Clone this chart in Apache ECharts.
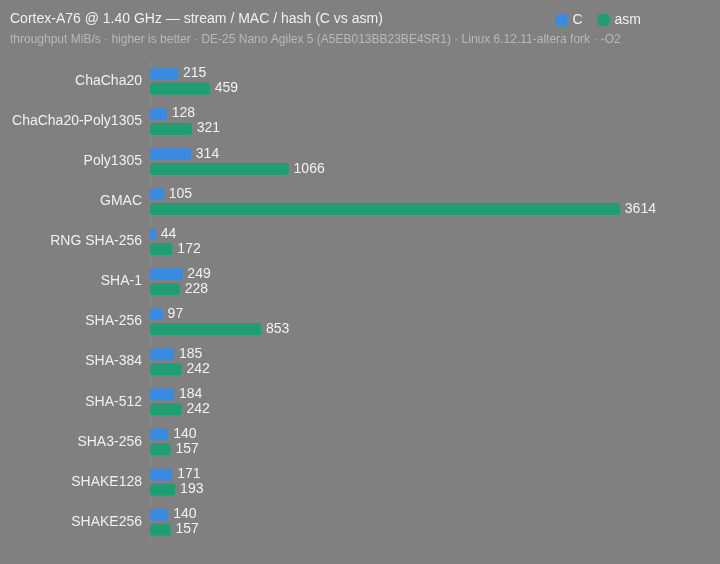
<!DOCTYPE html>
<html>
<head>
<meta charset="utf-8">
<script src="https://cdn.jsdelivr.net/npm/echarts@6/dist/echarts.min.js"></script>
<style>
  html, body { margin: 0; padding: 0; background: #808080; }
  #chart { width: 720px; height: 564px; }
</style>
</head>
<body>
<div id="chart"></div>
<script>
// data
const categories = ['ChaCha20', 'ChaCha20-Poly1305', 'Poly1305', 'GMAC', 'RNG SHA-256', 'SHA-1',
  'SHA-256', 'SHA-384', 'SHA-512', 'SHA3-256', 'SHAKE128', 'SHAKE256'];
const cValues = [215, 128, 314, 105, 44, 249, 97, 185, 184, 140, 171, 140];
const asmValues = [459, 321, 1066, 3614, 172, 228, 853, 242, 242, 157, 193, 157];

const chart = echarts.init(document.getElementById('chart'));

const font = 'Liberation Sans, Arial, sans-serif';
const labelStyle = {
  show: true,
  position: 'right',
  distance: 5,
  color: '#f2f2f2',
  fontSize: 14,
  fontFamily: font
};

chart.setOption({
  backgroundColor: '#808080',
  animation: false,
  title: {
    text: 'Cortex-A76 @ 1.40 GHz — stream / MAC / hash (C vs asm)',
    subtext: 'throughput MiB/s · higher is better · DE-25 Nano Agilex 5 (A5EB013BB23BE4SR1) · Linux 6.12.11-altera fork · -O2',
    left: 5,
    top: 7,
    itemGap: 8,
    textStyle: { color: '#f0f0f0', fontSize: 14, fontWeight: 'normal', fontFamily: font },
    subtextStyle: { color: '#b8b8b8', fontSize: 12, fontFamily: font }
  },
  legend: {
    right: 74,
    top: 8,
    itemWidth: 12,
    itemHeight: 12,
    itemGap: 15,
    textStyle: { color: '#f0f0f0', fontSize: 14, fontFamily: font },
    data: ['C', 'asm']
  },
  grid: { left: 150, right: 50, top: 61, bottom: 22, containLabel: false },
  xAxis: {
    type: 'value',
    min: 0,
    max: 4000,
    show: false
  },
  yAxis: {
    type: 'category',
    data: categories,
    inverse: true,
    axisLine: { show: true, lineStyle: { color: '#8c8c8c' } },
    axisTick: { show: false },
    axisLabel: { color: '#f0f0f0', fontSize: 14, margin: 8, fontFamily: font }
  },
  series: [
    {
      name: 'C',
      type: 'bar',
      data: cValues,
      barWidth: 12,
      barGap: '25%',
      itemStyle: { color: '#3a8ae0', borderRadius: 2 },
      label: labelStyle
    },
    {
      name: 'asm',
      type: 'bar',
      data: asmValues,
      barWidth: 12,
      itemStyle: { color: '#1f9e72', borderRadius: 2 },
      label: labelStyle
    }
  ]
});
</script>
</body>
</html>
